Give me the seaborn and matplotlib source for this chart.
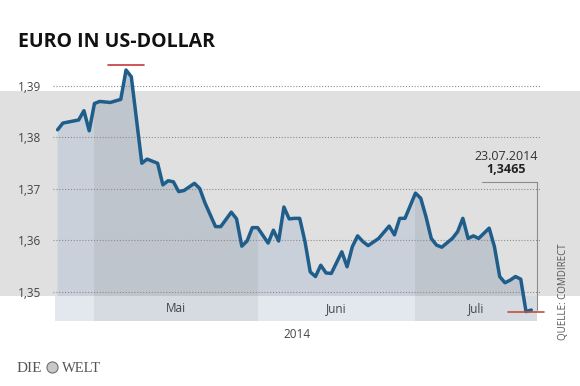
import numpy as np
import pandas as pd
import matplotlib.pyplot as plt
import matplotlib.patches as patches
from matplotlib.lines import Line2D
import seaborn as sns

# Kursverlauf EUR/USD
dates = ["2014-04-24", "2014-04-25", "2014-04-27", "2014-04-28", "2014-04-29",
         "2014-04-30", "2014-05-01", "2014-05-02", "2014-05-04", "2014-05-06",
         "2014-05-07", "2014-05-08", "2014-05-10", "2014-05-11", "2014-05-13",
         "2014-05-14", "2014-05-15", "2014-05-16", "2014-05-17", "2014-05-18",
         "2014-05-20", "2014-05-21", "2014-05-22", "2014-05-24", "2014-05-25",
         "2014-05-27", "2014-05-28", "2014-05-29", "2014-05-30", "2014-05-31",
         "2014-06-01", "2014-06-03", "2014-06-04", "2014-06-05", "2014-06-06",
         "2014-06-07", "2014-06-08", "2014-06-09", "2014-06-10", "2014-06-11",
         "2014-06-12", "2014-06-13", "2014-06-14", "2014-06-15", "2014-06-17",
         "2014-06-18", "2014-06-19", "2014-06-20", "2014-06-21", "2014-06-22",
         "2014-06-24", "2014-06-26", "2014-06-27", "2014-06-28", "2014-06-29",
         "2014-07-01", "2014-07-02", "2014-07-03", "2014-07-04", "2014-07-05",
         "2014-07-06", "2014-07-08", "2014-07-09", "2014-07-10", "2014-07-11",
         "2014-07-12", "2014-07-13", "2014-07-15", "2014-07-16", "2014-07-17",
         "2014-07-18", "2014-07-19", "2014-07-20", "2014-07-21", "2014-07-22",
         "2014-07-23"]
kurs = [1.3815, 1.3828, 1.3832, 1.3834, 1.3852,
        1.3813, 1.3866, 1.3870, 1.3868, 1.3874,
        1.3931, 1.3918, 1.3750, 1.3758, 1.3750,
        1.3708, 1.3716, 1.3714, 1.3695, 1.3697,
        1.3711, 1.3701, 1.3673, 1.3627, 1.3627,
        1.3655, 1.3642, 1.3589, 1.3599, 1.3625,
        1.3625, 1.3595, 1.3620, 1.3599, 1.3665,
        1.3642, 1.3643, 1.3643, 1.3598, 1.3539,
        1.3530, 1.3552, 1.3537, 1.3536, 1.3578,
        1.3549, 1.3588, 1.3609, 1.3598, 1.3590,
        1.3604, 1.3628, 1.3611, 1.3643, 1.3643,
        1.3692, 1.3682, 1.3646, 1.3604, 1.3591,
        1.3587, 1.3604, 1.3617, 1.3643, 1.3604,
        1.3609, 1.3604, 1.3624, 1.3588, 1.3530,
        1.3518, 1.3523, 1.3530, 1.3525, 1.3462,
        1.3465]

month_starts = ["2014-04-01", "2014-05-01", "2014-06-01", "2014-07-01", "2014-08-01"]
month_labels = ["", "Mai", "Juni", "Juli"]
y_ticks = [1.35, 1.36, 1.37, 1.38, 1.39]
y_ticklabels = ["1,35", "1,36", "1,37", "1,38", "1,39"]
year_label = "2014"
title = "EURO IN US-DOLLAR"
source = "QUELLE: COMDIRECT"

df = pd.DataFrame({"datum": pd.to_datetime(dates), "kurs": kurs})

sns.set_style("white")
plt.rcParams['font.family'] = ['Open Sans', 'DejaVu Sans']

line_col = '#1f5d8a'
fill_cols = ['#c9d0d9', '#bfc5cd']
strip_cols = ['#e3e8ef', '#d6dbe1']
grey_band = '#e0e0e0'
text_col = '#444444'

fig = plt.figure(figsize=(5.8, 3.86), dpi=100)
fig.add_artist(patches.Rectangle((0, 0.2332), 1, 0.5311, transform=fig.transFigure,
                                 facecolor=grey_band, edgecolor='none', zorder=-1))
ax = fig.add_axes([0.0914, 0.1684, 0.8397, 0.6762])
ax.patch.set_alpha(0)

ylim0, ylim1 = 1.34437, 1.39505
strip_top = 1.3492
x_start = df.datum.iloc[0] - pd.Timedelta(hours=12)
x_end = df.datum.iloc[-1] + pd.Timedelta(hours=26)

sns.lineplot(data=df, x="datum", y="kurs", ax=ax, color=line_col, lw=2.5, zorder=4)

# Flaeche unter der Kurve, monatsweise eingefaerbt
poly = ax.fill_between(df.datum, df.kurs, strip_top, color=fill_cols[0], lw=0, zorder=1)
clip = poly.get_paths()[0]
for i, (m0, m1) in enumerate(zip(month_starts[:-1], month_starts[1:])):
    a = max(pd.Timestamp(m0), x_start)
    b = min(pd.Timestamp(m1), x_end)
    span = ax.axvspan(a, b, color=fill_cols[i % 2], lw=0, zorder=1.1)
    span.set_clip_path(clip, ax.transData)
    ax.fill_between([a, b], ylim0, strip_top, color=strip_cols[i % 2], lw=0, zorder=1.3)
    if month_labels[i]:
        ax.text(a + (b - a) / 2, (ylim0 + strip_top) / 2, month_labels[i],
                ha='center', va='center', fontsize=8.5, color=text_col, zorder=5)

# Hoch / Tief markieren
i_max = df.kurs.idxmax()
i_min = df.kurs.idxmin()
d = pd.Timedelta(days=3.4)
ax.plot([df.datum[i_max] - d, df.datum[i_max] + d], [df.kurs[i_max] + 0.0009] * 2,
        color='#c8373c', lw=1.2, clip_on=False, zorder=5)
ax.plot([df.datum[i_min] - d, df.datum[i_min] + d], [df.kurs[i_min] - 0.0001] * 2,
        color='#c05040', lw=1.2, clip_on=False, zorder=5)

# Letzter Kurs
h = 1.3714
last = df.iloc[-1]
ax.plot([x_end - pd.Timedelta(days=10.5), x_end, x_end], [h, h, last.kurs],
        color='#8c8c8c', lw=0.8, zorder=3)
ax.annotate(last.datum.strftime("%d.%m.%Y"), (x_end, h), xytext=(-22, 16),
            textcoords='offset points', ha='center', va='baseline',
            fontsize=9, color='#333333')
ax.annotate(f"{last.kurs:.4f}".replace(".", ","), (x_end, h), xytext=(-22, 6.5),
            textcoords='offset points', ha='center', va='baseline',
            fontsize=9, fontweight='bold', color='#222222')

ax.set_xlim(x_start - pd.Timedelta(hours=9), x_end + pd.Timedelta(hours=14))
ax.set_ylim(ylim0, ylim1)
ax.set_yticks(y_ticks, y_ticklabels)
ax.set_xticks([])
ax.set_axisbelow('line')
ax.grid(axis='y', color='#8c8c8c', ls=(0, (1, 1.6)), lw=0.8)
ax.tick_params(axis='y', length=0, pad=25, labelsize=8.5, labelcolor=text_col)
for lab in ax.get_yticklabels():
    lab.set_ha('left')
ax.set_xlabel(year_label, fontsize=8.5, color=text_col, labelpad=5)
ax.set_ylabel("")
for s in ax.spines.values():
    s.set_visible(False)

fig.text(18 / 580, 0.8782, title, fontsize=14, fontweight='bold', color='#111111',
         va='baseline')
fig.text(563 / 580, 46 / 386, source, rotation=90, ha='center', va='bottom',
         fontsize=7, color='#555555')

# Logo
fig.text(17 / 580, 14 / 386, "DIE", family='Liberation Serif', fontsize=11,
         color='#555555', va='baseline')
fig.text(62 / 580, 14 / 386, "WELT", family='Liberation Serif', fontsize=10.5,
         color='#555555', va='baseline')
fig.add_artist(Line2D([52 / 580], [19.5 / 386], transform=fig.transFigure, marker='o',
                      ms=8, mfc='#c8c8c8', mec='#707070', mew=0.8))

fig.savefig("out.png", dpi=100)
